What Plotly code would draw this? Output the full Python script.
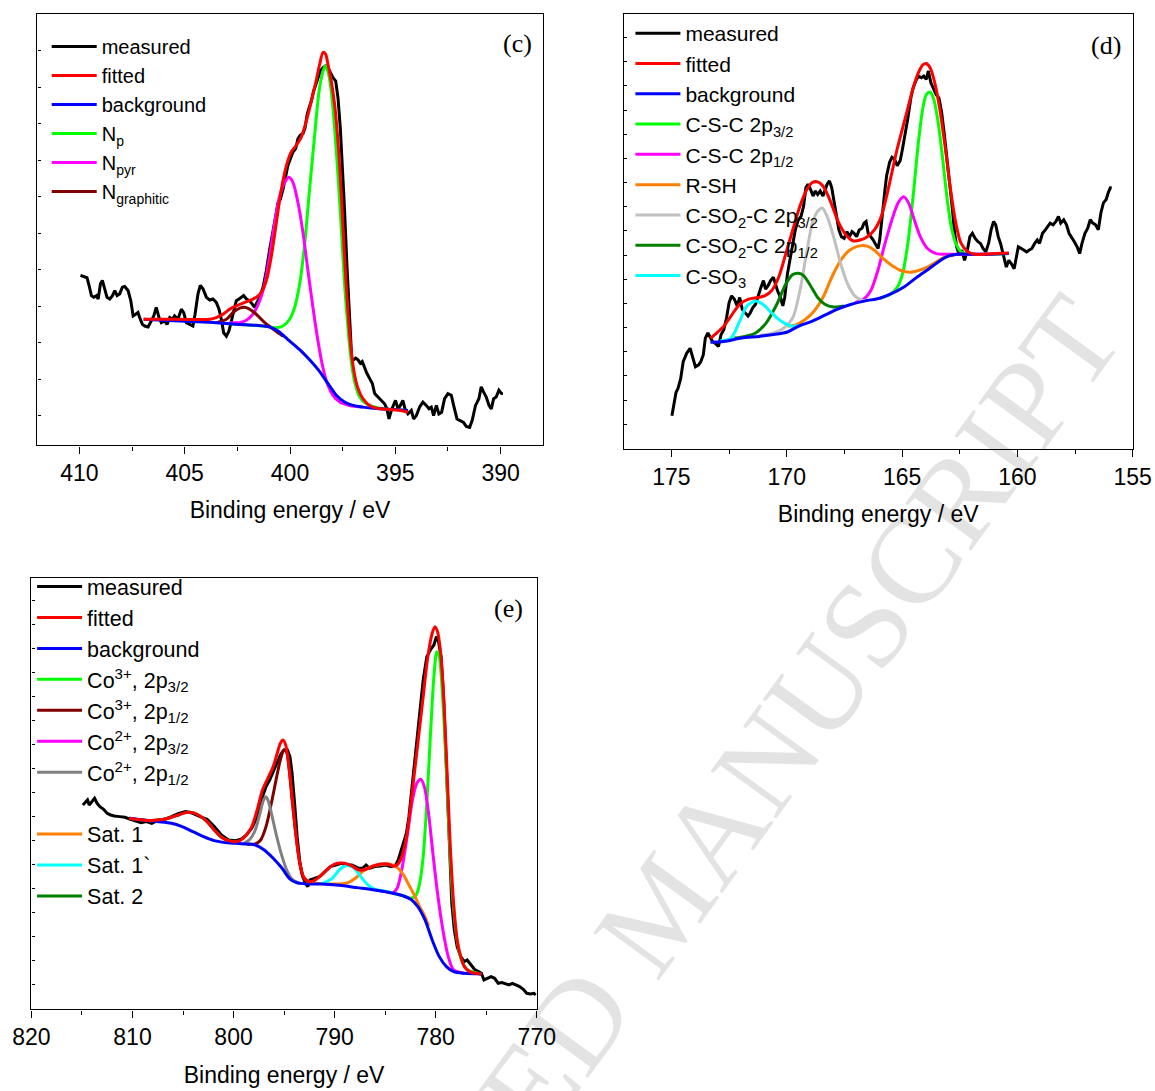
import plotly.graph_objects as go

# ---------------- Panel (c): N 1s ----------------
c_meas_x = [409.95, 409.75, 409.64, 409.54, 409.43, 409.32, 409.19, 409.11, 409.00, 408.91, 408.80, 408.69, 408.56, 408.43,
            408.32, 408.21, 408.09, 407.96, 407.85, 407.69, 407.56, 407.45, 407.33, 407.22, 407.14, 407.01, 406.90, 406.74,
            406.63, 406.47, 406.35, 406.22, 406.11, 405.95, 405.84, 405.71, 405.59, 405.48, 405.32, 405.16, 405.05, 404.92,
            404.76, 404.61, 404.51, 404.37, 404.26, 404.13, 403.97, 403.81, 403.66, 403.50, 403.37, 403.26, 403.15, 403.02,
            402.90, 402.79, 402.67, 402.55, 402.42, 402.30, 402.20, 402.07, 401.92, 401.79, 401.68, 401.57, 401.44, 401.28,
            401.12, 400.97, 400.81, 400.68, 400.57, 400.46, 400.33, 400.21, 400.10, 399.98, 399.86, 399.73, 399.62, 399.51,
            399.38, 399.29, 399.19, 399.10, 398.99, 398.88, 398.78, 398.67, 398.56, 398.43, 398.31, 398.20, 398.09, 397.96,
            397.83, 397.72, 397.61, 397.52, 397.41, 397.30, 397.20, 397.14, 397.07, 396.98, 396.88, 396.77, 396.66, 396.57,
            396.46, 396.35, 396.22, 396.09, 395.98, 395.82, 395.67, 395.51, 395.40, 395.30, 395.19, 395.08, 394.99, 394.87,
            394.76, 394.64, 394.54, 394.40, 394.24, 394.13, 394.00, 393.85, 393.69, 393.53, 393.40, 393.29, 393.18, 393.05,
            392.93, 392.80, 392.66, 392.50, 392.34, 392.23, 392.07, 391.92, 391.76, 391.63, 391.47, 391.35, 391.19, 391.03,
            390.92, 390.81, 390.68, 390.55, 390.44, 390.33, 390.21, 390.08, 389.95, 389.89]
c_meas_y = [503, 498, 496, 473, 443, 438, 443, 433, 478, 488, 458, 438, 433, 443,
            458, 443, 448, 468, 470, 458, 428, 383, 388, 393, 378, 358, 353, 350,
            363, 383, 408, 378, 363, 368, 358, 378, 373, 383, 373, 403, 393, 363,
            358, 353, 388, 448, 473, 463, 438, 430, 433, 423, 403, 373, 333, 323,
            338, 368, 403, 428, 433, 438, 443, 433, 428, 418, 408, 423, 438, 468,
            518, 578, 628, 678, 718, 728, 758, 798, 828, 848, 868, 878, 908, 918,
            923, 938, 978, 998, 1018, 1048, 1068, 1088, 1108, 1118, 1123, 1118, 1103, 1088,
            1078, 1028, 938, 838, 698, 538, 418, 318, 258, 253, 258, 253, 243, 248,
            228, 213, 198, 183, 153, 143, 133, 123, 108, 78, 103, 118, 133, 108,
            118, 133, 108, 93, 103, 78, 88, 113, 128, 118, 108, 113, 88, 118,
            93, 98, 138, 153, 148, 118, 78, 73, 68, 56, 53, 73, 118, 138,
            173, 158, 143, 118, 108, 138, 143, 163, 153, 153]

c_fit_x = [406.95, 405.40, 403.81, 403.50, 403.18, 402.86, 402.55, 402.23, 401.92, 401.60, 401.36, 401.12, 400.89, 400.65,
           400.41, 400.17, 399.94, 399.70, 399.46, 399.23, 398.99, 398.78, 398.59, 398.43, 398.31, 398.20, 398.04, 397.88,
           397.72, 397.56, 397.41, 397.25, 397.09, 396.93, 396.77, 396.54, 396.22, 395.74, 395.27, 394.80, 394.40]
c_fit_y = [373, 373, 373, 378, 388, 403, 413, 421, 428, 438, 453, 488, 558, 658,
           758, 828, 868, 888, 913, 958, 1018, 1073, 1128, 1163, 1158, 1128, 1078, 1008,
           898, 738, 558, 398, 278, 208, 168, 138, 118, 108, 106, 104, 98]

c_bg_x = [406.95, 406.03, 404.45, 403.50, 402.55, 401.60, 400.97, 400.57, 400.10, 399.54, 399.07, 398.59, 398.20, 397.80,
          397.41, 397.01, 396.54, 395.74, 394.95, 394.40]
c_bg_y = [373, 370, 366, 363, 358, 355, 350, 338, 313, 283, 253, 218, 183, 148,
          128, 118, 113, 108, 106, 103]

c_np_x = [402.86, 401.28, 400.65, 400.33, 400.02, 399.78, 399.54, 399.30, 399.07, 398.83, 398.62, 398.43, 398.31, 398.20,
          398.04, 397.88, 397.72, 397.56, 397.41, 397.25, 397.09, 396.93, 396.69, 396.38, 395.74, 394.40]
c_np_y = [360, 353, 348, 353, 373, 408, 478, 598, 758, 918, 1048, 1108, 1123, 1108,
          1048, 938, 798, 638, 478, 348, 248, 188, 143, 123, 110, 103]

c_npyr_x = [402.86, 402.39, 402.07, 401.76, 401.44, 401.20, 400.97, 400.73, 400.49, 400.25, 400.05, 399.86, 399.62, 399.38,
            399.15, 398.91, 398.67, 398.43, 398.20, 397.96, 397.64, 397.17, 396.54]
c_npyr_y = [363, 363, 370, 388, 428, 478, 558, 658, 738, 778, 793, 778, 718, 628,
            518, 408, 308, 228, 178, 148, 128, 118, 113]

c_ngr_x = [403.50, 403.02, 402.71, 402.39, 402.10, 401.84, 401.52, 401.20, 400.89, 400.57, 400.33]
c_ngr_y = [363, 373, 393, 406, 408, 400, 383, 363, 348, 333, 323]

# ---------------- Panel (d): S 2p ----------------
d_meas_x = [174.98, 174.91, 174.80, 174.72, 174.60, 174.49, 174.34, 174.19, 174.08, 173.96, 173.83, 173.73, 173.62, 173.53,
            173.42, 173.31, 173.22, 173.11, 172.96, 172.85, 172.73, 172.61, 172.50, 172.39, 172.27, 172.15, 172.04, 171.93,
            171.81, 171.68, 171.58, 171.47, 171.35, 171.22, 171.12, 171.01, 170.92, 170.81, 170.70, 170.58, 170.50, 170.40,
            170.27, 170.17, 170.09, 169.97, 169.84, 169.74, 169.63, 169.50, 169.38, 169.27, 169.17, 169.08, 168.97, 168.86,
            168.77, 168.66, 168.55, 168.43, 168.34, 168.25, 168.15, 168.05, 167.94, 167.85, 167.74, 167.63, 167.51, 167.39,
            167.28, 167.17, 167.08, 166.97, 166.86, 166.74, 166.65, 166.56, 166.47, 166.36, 166.25, 166.13, 166.04, 165.97,
            165.90, 165.82, 165.74, 165.67, 165.54, 165.44, 165.33, 165.21, 165.08, 164.98, 164.87, 164.75, 164.62, 164.52,
            164.41, 164.29, 164.16, 164.06, 163.95, 163.86, 163.75, 163.64, 163.52, 163.40, 163.29, 163.18, 163.06, 162.94,
            162.83, 162.72, 162.63, 162.52, 162.41, 162.29, 162.17, 162.06, 161.95, 161.83, 161.71, 161.60, 161.49, 161.37,
            161.25, 161.14, 161.03, 160.94, 160.83, 160.73, 160.60, 160.48, 160.37, 160.26, 160.14, 160.05, 159.96, 159.83,
            159.71, 159.60, 159.50, 159.37, 159.25, 159.14, 159.04, 158.91, 158.79, 158.68, 158.58, 158.45, 158.33, 158.22,
            158.12, 157.99, 157.87, 157.76, 157.66, 157.53, 157.41, 157.30, 157.20, 157.07, 156.95, 156.84, 156.73, 156.61,
            156.49, 156.38, 156.27, 156.15, 156.06, 155.97, 155.91]
d_meas_y = [98, 128, 168, 178, 208, 258, 283, 298, 268, 243, 248, 258, 278, 328,
            343, 328, 318, 313, 303, 338, 353, 388, 433, 453, 443, 423, 448, 413,
            403, 393, 403, 418, 428, 458, 478, 498, 473, 483, 498, 508, 488, 468,
            448, 423, 448, 518, 568, 608, 648, 678, 688, 718, 773, 783, 768, 748,
            763, 753, 763, 748, 768, 783, 793, 773, 728, 688, 648, 628, 623, 643,
            628, 643, 638, 628, 648, 653, 668, 673, 638, 628, 618, 603, 593, 618,
            668, 728, 768, 808, 848, 863, 858, 838, 853, 888, 928, 978, 1038, 1068,
            1088, 1103, 1098, 1103, 1093, 1118, 1083, 1068, 1048, 1038, 998, 938, 868, 798,
            718, 638, 598, 573, 588, 558, 588, 628, 638, 623, 613, 608, 593, 583,
            608, 648, 673, 663, 628, 608, 568, 538, 558, 548, 533, 568, 598, 593,
            588, 583, 588, 593, 608, 618, 608, 638, 648, 658, 668, 663, 673, 688,
            668, 678, 663, 638, 628, 613, 598, 578, 608, 638, 653, 678, 668, 663,
            648, 698, 728, 738, 758, 773, 773]

d_fit_x = [173.31, 173.04, 172.73, 172.42, 172.04, 171.65, 171.27, 170.96, 170.66, 170.35, 170.04, 169.74, 169.43, 169.12,
           168.89, 168.66, 168.43, 168.20, 167.97, 167.74, 167.43, 167.13, 166.82, 166.51, 166.20, 165.90, 165.67, 165.44,
           165.21, 164.98, 164.75, 164.52, 164.29, 164.10, 163.95, 163.79, 163.60, 163.37, 163.14, 162.90, 162.67, 162.44,
           162.14, 161.83, 161.37, 160.91, 160.37]
d_fit_y = [328, 343, 363, 393, 428, 443, 448, 453, 468, 508, 578, 648, 718, 768,
           788, 790, 778, 748, 708, 668, 633, 616, 618, 628, 648, 688, 748, 818,
           888, 948, 1008, 1068, 1113, 1136, 1140, 1128, 1088, 1008, 898, 768, 668, 608,
           583, 576, 576, 578, 580]

d_bg_x = [173.31, 172.73, 171.96, 171.19, 170.43, 169.97, 169.50, 168.89, 168.28, 167.82, 167.20, 166.59, 165.97, 165.51,
          164.90, 164.36, 163.83, 163.37, 162.98, 162.60, 161.98, 161.22, 160.37]
d_bg_y = [316, 318, 328, 333, 340, 346, 363, 378, 398, 413, 428, 438, 446, 458,
          480, 508, 533, 556, 571, 576, 576, 576, 578]

d_csc32_x = [165.97, 165.51, 165.21, 164.98, 164.75, 164.52, 164.29, 164.10, 163.95, 163.79, 163.64, 163.44, 163.24, 163.06,
             162.87, 162.67, 162.44, 161.98, 160.37]
d_csc32_y = [446, 458, 478, 518, 608, 748, 908, 1008, 1048, 1056, 1038, 968, 858, 748,
             658, 608, 583, 576, 578]

d_csc12_x = [167.05, 166.67, 166.36, 166.05, 165.74, 165.44, 165.17, 164.93, 164.72, 164.47, 164.21, 163.90, 163.52, 162.90,
             161.22]
d_csc12_y = [433, 443, 468, 528, 608, 678, 728, 746, 728, 678, 628, 593, 578, 576,
             576]

d_rsh_x = [169.97, 169.58, 169.20, 168.81, 168.43, 168.05, 167.66, 167.28, 166.90, 166.51, 166.20, 165.82, 165.44, 165.05,
           164.67, 164.29, 163.90, 163.52, 163.14, 162.75]
d_rsh_y = [363, 368, 383, 408, 448, 508, 558, 588, 600, 600, 588, 563, 543, 528,
           523, 528, 538, 553, 568, 573]

d_so2_32_x = [171.19, 170.58, 170.12, 169.74, 169.43, 169.12, 168.89, 168.66, 168.46, 168.25, 167.97, 167.66, 167.36, 167.05,
              166.74, 166.44]
d_so2_32_y = [336, 343, 358, 388, 468, 588, 668, 703, 713, 688, 628, 548, 488, 453,
              440, 440]

d_so2_12_x = [172.27, 171.81, 171.35, 170.89, 170.43, 170.04, 169.74, 169.50, 169.27, 168.97, 168.66, 168.35, 167.97, 167.51]
d_so2_12_y = [328, 333, 343, 373, 428, 488, 516, 520, 513, 483, 448, 428, 420, 423]

d_so3_x = [172.88, 172.42, 172.04, 171.73, 171.35, 171.04, 170.73, 170.43, 170.12, 169.74, 169.35]
d_so3_y = [320, 328, 378, 423, 438, 428, 408, 388, 373, 363, 366]

# ---------------- Panel (e): Co 2p ----------------
e_meas_x = [814.91, 814.63, 814.45, 814.28, 813.99, 813.75, 813.50, 813.22, 812.86, 812.51, 812.16, 811.80, 811.27, 810.74,
            810.21, 809.68, 809.15, 808.62, 808.09, 807.56, 806.86, 806.15, 805.44, 804.74, 804.03, 803.32, 802.62, 801.91,
            801.20, 800.50, 799.79, 799.26, 798.73, 798.20, 797.67, 797.14, 796.79, 796.43, 796.08, 795.73, 795.37, 795.02,
            794.67, 794.42, 794.21, 793.96, 793.71, 793.43, 793.15, 792.90, 792.65, 792.44, 792.02, 791.49, 790.96, 790.42,
            789.89, 789.36, 788.83, 788.30, 787.95, 787.60, 787.24, 786.89, 786.54, 786.01, 785.48, 784.95, 784.42, 783.96,
            783.71, 783.46, 783.18, 782.90, 782.65, 782.30, 781.94, 781.59, 781.24, 780.88, 780.53, 780.18, 779.93, 779.72,
            779.47, 779.22, 778.94, 778.66, 778.41, 778.16, 777.88, 777.53, 777.17, 776.89, 776.64, 776.40, 776.11, 775.76,
            775.48, 775.23, 774.88, 774.52, 774.17, 773.82, 773.46, 773.11, 772.76, 772.40, 772.05, 771.70, 771.34, 770.99,
            770.64, 770.28, 770.11]
e_meas_y = [613, 623, 628, 613, 623, 633, 618, 608, 600, 588, 583, 580, 578, 576,
            570, 566, 560, 563, 558, 566, 570, 578, 588, 593, 588, 578, 570, 548,
            523, 508, 506, 510, 523, 543, 578, 638, 668, 688, 713, 738, 763, 778,
            778, 758, 708, 618, 518, 438, 398, 378, 368, 388, 393, 398, 413, 428,
            433, 438, 433, 433, 428, 423, 423, 433, 423, 428, 430, 433, 428, 433,
            448, 473, 498, 528, 578, 678, 788, 878, 988, 1058, 1078, 1093, 1118, 1103,
            1058, 938, 718, 468, 318, 238, 188, 158, 143, 148, 138, 128, 118, 113,
            108, 88, 93, 98, 93, 78, 80, 76, 73, 78, 73, 68, 60, 48,
            46, 48, 43]

e_fit_x = [810.32, 809.68, 808.98, 808.27, 807.56, 806.86, 806.15, 805.44, 804.74, 804.03, 803.32, 802.62, 801.91, 801.20,
           800.50, 799.79, 799.26, 798.73, 798.20, 797.67, 797.14, 796.61, 796.08, 795.73, 795.37, 795.12, 794.84, 794.56,
           794.21, 793.85, 793.50, 793.08, 792.55, 792.02, 791.49, 790.96, 790.42, 789.72, 789.01, 788.30, 787.60, 786.89,
           786.18, 785.48, 784.77, 784.24, 783.82, 783.36, 782.83, 782.30, 781.77, 781.24, 780.78, 780.35, 780.07, 779.82,
           779.58, 779.29, 778.94, 778.59, 778.23, 777.88, 777.53, 777.17, 776.64, 776.11, 775.48]
e_fit_y = [573, 570, 568, 566, 568, 570, 576, 583, 590, 590, 580, 563, 538, 516,
           506, 503, 508, 523, 548, 598, 658, 693, 728, 763, 798, 808, 793, 738,
           638, 528, 448, 398, 383, 386, 398, 413, 428, 438, 438, 430, 418, 420,
           430, 436, 436, 430, 433, 458, 528, 658, 798, 938, 1058, 1128, 1148, 1133,
           1088, 978, 758, 508, 318, 208, 158, 128, 113, 108, 106]

e_bg_x = [810.32, 808.98, 807.56, 806.15, 805.09, 804.03, 802.97, 801.91, 800.85, 799.79, 798.73, 797.85, 796.96, 796.08,
          795.20, 794.49, 793.78, 792.72, 791.31, 789.54, 787.77, 786.01, 784.24, 783.18, 782.47, 781.77, 781.06, 780.35,
          779.65, 778.94, 778.23, 777.17, 775.48]
e_bg_y = [573, 568, 563, 558, 548, 533, 518, 506, 500, 498, 496, 493, 478, 453,
          423, 393, 380, 376, 376, 372, 365, 358, 348, 340, 330, 308, 268, 208,
          158, 128, 113, 108, 106]

e_co3_32_x = [784.24, 783.18, 782.47, 781.94, 781.59, 781.24, 780.88, 780.53, 780.18, 779.89, 779.65, 779.36, 779.01, 778.66,
              778.30, 777.88, 777.46, 776.82, 775.48]
e_co3_32_y = [348, 340, 333, 343, 378, 458, 618, 818, 998, 1073, 1058, 958, 758, 518,
              328, 208, 148, 118, 106]

e_co3_12_x = [798.73, 797.85, 797.32, 796.79, 796.26, 795.73, 795.37, 795.02, 794.77, 794.49, 794.21, 793.85, 793.50, 793.15,
              792.72]
e_co3_12_y = [496, 496, 508, 548, 618, 698, 748, 778, 773, 718, 628, 528, 448, 398,
              383]

e_co2_32_x = [786.01, 784.95, 784.24, 783.82, 783.36, 782.83, 782.30, 781.87, 781.49, 781.13, 780.71, 780.28, 779.82, 779.29,
              778.76, 778.23, 777.17]
e_co2_32_y = [358, 353, 350, 363, 418, 518, 628, 678, 690, 668, 588, 468, 348, 238,
              158, 118, 108]

e_co2_12_x = [799.08, 798.38, 797.85, 797.39, 797.03, 796.79, 796.54, 796.18, 795.73, 795.20, 794.67, 794.14, 793.43]
e_co2_12_y = [496, 510, 538, 588, 628, 638, 623, 578, 518, 458, 413, 388, 378]

e_sat1_x = [792.02, 790.60, 789.54, 788.66, 787.95, 787.24, 786.36, 785.65, 784.95, 784.24, 783.71, 783.18, 782.65, 782.12,
            781.59, 781.06, 780.71]
e_sat1_y = [378, 376, 376, 380, 393, 413, 428, 433, 436, 433, 423, 403, 373, 343,
            308, 278, 250]

e_sat1b_x = [791.31, 790.25, 789.54, 789.01, 788.48, 787.95, 787.42, 786.71, 786.01, 785.12, 784.24]
e_sat1b_y = [376, 393, 418, 430, 430, 420, 398, 373, 360, 355, 350]

e_sat2_x = [810.32, 809.68, 808.98, 808.27, 807.56, 806.86, 806.15, 805.44, 804.74, 804.03, 803.32, 802.62, 801.91, 801.20,
            800.50, 799.79]
e_sat2_y = [573, 570, 568, 566, 568, 570, 576, 583, 590, 590, 580, 563, 538, 516,
            506, 503]

# ---------------- styling ----------------
BLACK, RED, BLUE = "#000000", "#ff0000", "#0000ff"
LW = 3
FONT = "Arial, Liberation Sans, sans-serif"
SERIF = "Times New Roman, Liberation Serif, serif"

fig = go.Figure()


def add(x, y, name, color, ax, leg, rank, shape="spline", show=True, width=LW):
    fig.add_trace(go.Scatter(
        x=x, y=y, name=name, mode="lines",
        line=dict(color=color, width=width, shape=shape, smoothing=0.8 if shape == "spline" else None),
        xaxis="x" + ax, yaxis="y" + ax, legend=leg, legendrank=rank, showlegend=show,
        hoverinfo="skip"))


# panel c
add(c_meas_x, c_meas_y, "measured", BLACK, "", "legend", 1, shape="linear")
add(c_np_x, c_np_y, "N<sub>p</sub>", "#00ff00", "", "legend", 4)
add(c_npyr_x, c_npyr_y, "N<sub>pyr</sub>", "#ff00ff", "", "legend", 5)
add(c_ngr_x, c_ngr_y, "N<sub>graphitic</sub>", "#800000", "", "legend", 6)
add(c_bg_x, c_bg_y, "background", BLUE, "", "legend", 3)
add(c_fit_x, c_fit_y, "fitted", RED, "", "legend", 2)

# panel d
add(d_meas_x, d_meas_y, "measured", BLACK, "2", "legend2", 1, shape="linear")
add(d_csc32_x, d_csc32_y, "C-S-C 2p<sub>3/2</sub>", "#00ff00", "2", "legend2", 4)
add(d_csc12_x, d_csc12_y, "C-S-C 2p<sub>1/2</sub>", "#ff00ff", "2", "legend2", 5)
add(d_rsh_x, d_rsh_y, "R-SH", "#ff8000", "2", "legend2", 6)
add(d_so2_32_x, d_so2_32_y, "C-SO<sub>2</sub>-C 2p<sub>3/2</sub>", "#c0c0c0", "2", "legend2", 7)
add(d_so2_12_x, d_so2_12_y, "C-SO<sub>2</sub>-C 2p<sub>1/2</sub>", "#008000", "2", "legend2", 8)
add(d_so3_x, d_so3_y, "C-SO<sub>3</sub>", "#00ffff", "2", "legend2", 9)
add(d_bg_x, d_bg_y, "background", BLUE, "2", "legend2", 3)
add(d_fit_x, d_fit_y, "fitted", RED, "2", "legend2", 2)

# panel e
add(e_meas_x, e_meas_y, "measured", BLACK, "3", "legend3", 1, shape="linear")
add(e_co3_32_x, e_co3_32_y, "Co<sup>3+</sup>, 2p<sub>3/2</sub>", "#00ff00", "3", "legend3", 4)
add(e_co3_12_x, e_co3_12_y, "Co<sup>3+</sup>, 2p<sub>1/2</sub>", "#800000", "3", "legend3", 5)
add(e_co2_32_x, e_co2_32_y, "Co<sup>2+</sup>, 2p<sub>3/2</sub>", "#ff00ff", "3", "legend3", 6)
add(e_co2_12_x, e_co2_12_y, "Co<sup>2+</sup>, 2p<sub>1/2</sub>", "#808080", "3", "legend3", 7)
fig.add_trace(go.Scatter(x=[None], y=[None], name=" ", mode="lines", line=dict(color="rgba(0,0,0,0)", width=LW),
                         xaxis="x3", yaxis="y3", legend="legend3", legendrank=8, hoverinfo="skip"))
add(e_sat1_x, e_sat1_y, "Sat. 1", "#ff8000", "3", "legend3", 9)
add(e_sat1b_x, e_sat1b_y, "Sat. 1`", "#00ffff", "3", "legend3", 10)
add(e_sat2_x, e_sat2_y, "Sat. 2", "#008000", "3", "legend3", 11)
add(e_bg_x, e_bg_y, "background", BLUE, "3", "legend3", 3)
add(e_fit_x, e_fit_y, "fitted", RED, "3", "legend3", 2)

W, H = 1155, 1091


def xdom(l, r):
    return [l / W, r / W]


def ydom(t, b):
    return [1 - b / H, 1 - t / H]


tickfont = dict(family=FONT, size=23, color="black")
titlefont = dict(family=FONT, size=23, color="black")


def xaxis(dom, rng, anchor, dtick, minor_dtick, standoff):
    return dict(domain=dom, range=rng, anchor=anchor, showline=True, linecolor="black", linewidth=1.4,
                mirror=True, showgrid=False, zeroline=False, ticks="outside", ticklen=7, tickwidth=1.4,
                tickcolor="black", dtick=dtick, tick0=0, tickfont=tickfont, ticklabelstandoff=0,
                automargin=False,
                minor=dict(ticks="outside", ticklen=4, tickwidth=1.4, tickcolor="black", dtick=minor_dtick, tick0=0,
                           showgrid=False),
                title=dict(text="Binding energy / eV", font=titlefont, standoff=standoff))


def yaxis(dom, rng, anchor, tick0, dtick):
    return dict(domain=dom, range=rng, anchor=anchor, showline=True, linecolor="black", linewidth=1.4,
                mirror=True, showgrid=False, zeroline=False, ticks="inside", ticklen=3, tickwidth=1.2,
                tickcolor="black", tick0=tick0, dtick=dtick, showticklabels=False, automargin=False)


legend_common = dict(bgcolor="rgba(0,0,0,0)", borderwidth=0, xanchor="left", yanchor="top",
                     itemwidth=45, tracegroupgap=0, traceorder="normal", itemclick=False)

fig.update_layout(
    width=W, height=H, margin=dict(l=0, r=0, t=0, b=0, autoexpand=False),
    paper_bgcolor="white", plot_bgcolor="white",
    font=dict(family=FONT, color="black"),
    xaxis=xaxis(xdom(37.3, 542.7), [412, 388], "y", 5, 2.5, 16),
    yaxis=yaxis(ydom(13.5, 445.3), [0, 1278], "x", 88, 108),
    xaxis2=xaxis(xdom(623.7, 1132.7), [177.07, 155], "y2", 5, 2.5, 17),
    yaxis2=yaxis(ydom(13.5, 449.0), [0, 1288], "x2", 73, 71.5),
    xaxis3=xaxis(xdom(31.4, 536.8), [820, 770], "y3", 10, 5, 17),
    yaxis3=yaxis(ydom(578.3, 1009.3), [0, 1293], "x3", 73, 72),
    legend=dict(legend_common, x=46.7 / W, y=1 - 27 / H, font=dict(family=FONT, size=20, color="black")),
    legend2=dict(legend_common, x=630.4 / W, y=1 - 13 / H, font=dict(family=FONT, size=21, color="black")),
    legend3=dict(legend_common, x=32.1 / W, y=1 - 566 / H, font=dict(family=FONT, size=21.5, color="black")),
    showlegend=True,
)

# panel labels
for txt, px, py in [("(c)", 517.3, 43.3), ("(d)", 1106.2, 45.6), ("(e)", 508.9, 608.3)]:
    fig.add_annotation(text=txt, x=px / W, y=1 - py / H, xref="paper", yref="paper", showarrow=False,
                       xanchor="center", yanchor="middle", font=dict(family=SERIF, size=26, color="black"))

# watermark
fig.add_annotation(text="ACCEPTED MANUSCRIPT", x=660.5 / W, y=1 - 907.4 / H, xref="paper", yref="paper",
                   showarrow=False, textangle=-54, xanchor="center", yanchor="middle",
                   font=dict(family=SERIF, size=124, color="rgba(0,0,0,0.11)"))

fig.write_html("out.html")
